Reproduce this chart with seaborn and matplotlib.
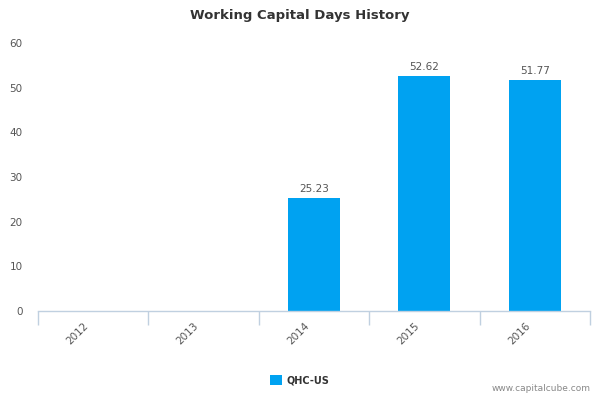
import numpy as np
import pandas as pd
import matplotlib
matplotlib.use("Agg")
import matplotlib.pyplot as plt
import matplotlib.transforms as mtransforms
import seaborn as sns
from matplotlib.patches import Patch

years = ["2012", "2013", "2014", "2015", "2016"]
values = [np.nan, np.nan, 25.23, 52.62, 51.77]
series_name = "QHC-US"
yticks = [0, 10, 20, 30, 40, 50, 60]

sns.set_theme(style="white")
plt.rcParams['font.family'] = ['DejaVu Sans']

df = pd.DataFrame({"year": years, "value": values})

fig = plt.figure(figsize=(6, 4), dpi=100)
ax = fig.add_axes([0.0633, 0.2225, 0.92, 0.67])
bar_color = "#00A2F1"
sns.barplot(data=df, x="year", y="value", color=bar_color, width=0.47,
            saturation=1, ax=ax, order=years, linewidth=0, edgecolor="none")

for p in ax.patches:
    h = p.get_height()
    if h is None or np.isnan(h):
        continue
    ax.annotate(f"{h:.2f}", (p.get_x() + p.get_width() / 2, h),
                xytext=(0, 3), textcoords="offset points",
                ha="center", va="bottom", fontsize=7.5, color="#555555")

ax.set_xlim(-0.5, 4.5)
ax.set_ylim(0, 60)
ax.set_yticks(yticks)
ax.set_yticklabels([str(t) for t in yticks], fontsize=7.5, color="#555555")
ax.set_xticks(range(len(years)))
ax.set_xticklabels(years, rotation=45, ha="right", rotation_mode="anchor",
                   fontsize=7.5, color="#555555")
ax.tick_params(axis="x", which="major", bottom=False, length=0, pad=7)
offset = mtransforms.ScaledTranslation(-10 / 100, 0, fig.dpi_scale_trans)
for lab in ax.get_xticklabels():
    lab.set_transform(lab.get_transform() + offset)
ax.set_xticks(np.arange(-0.5, len(years), 1.0), minor=True)
ax.tick_params(axis="x", which="minor", bottom=True, length=10,
               color="#C0D0E0", width=1, direction="out")
ax.tick_params(axis="y", left=False, length=0, pad=11)
ax.set_xlabel("")
ax.set_ylabel("")
for s in ["top", "right", "left"]:
    ax.spines[s].set_visible(False)
ax.spines["bottom"].set_color("#C0D0E0")
ax.spines["bottom"].set_linewidth(1)
ax.grid(False)

fig.text(0.5, 0.96, "Working Capital Days History", ha="center", va="center",
         fontsize=9.5, fontweight="bold", color="#333333")

leg = fig.legend(handles=[Patch(facecolor=bar_color, edgecolor="none", label=series_name)],
                 loc="center", bbox_to_anchor=(0.5, 0.05), frameon=False,
                 prop={"size": 7, "weight": "bold"}, handlelength=1.2, handleheight=1.2,
                 handletextpad=0.5)
for t in leg.get_texts():
    t.set_color("#333333")

fig.text(0.985, 0.018, "www.capitalcube.com", ha="right", va="bottom",
         fontsize=6.5, color="#888888")

fig.savefig("out.png", dpi=100)
